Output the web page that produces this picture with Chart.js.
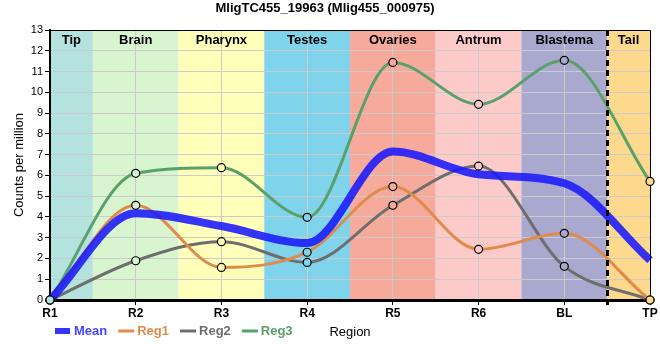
<!DOCTYPE html>
<html><head><meta charset="utf-8">
<script src="https://cdn.jsdelivr.net/npm/chart.js@4/dist/chart.umd.min.js"></script>
<style>html,body{margin:0;padding:0;background:#fff}#wrap{width:660px;height:360px;position:relative}</style>
</head><body><div id="wrap"><canvas id="c" width="660" height="360" style="width:660px;height:360px"></canvas></div>
<script>
const categories = ['R1','R2','R3','R4','R5','R6','BL','TP'];
const meanVals = [0, 4.18, 3.56, 2.74, 7.15, 6.05, 5.62, 1.92];
const reg1 = [0, 4.56, 1.57, 2.30, 5.46, 2.44, 3.21, 0];
const reg2 = [0, 1.89, 2.81, 1.81, 4.56, 6.45, 1.62, 0];
const reg3 = [0, 6.10, 6.37, 3.98, 11.44, 9.42, 11.54, 5.71];
const bandNames = ['Tip','Brain','Pharynx','Testes','Ovaries','Antrum','Blastema','Tail'];
const bandStart = [0, 0.5, 1.5, 2.5, 3.5, 4.5, 5.5, 6.5];
const bandEnd   = [0.5, 1.5, 2.5, 3.5, 4.5, 5.5, 6.5, 7];
const bandColors = ['#b4e2de','#d9f5d0','#ffffb9','#7fd4ec','#f5aa9c','#fdcaca','#a9a8ce','#fdd98e'];
const dashedAt = 6.5;

const FONT = "'Liberation Sans', Arial, sans-serif";

function bandColorAt(i){
  for (let k = 0; k < bandNames.length; k++) {
    if (i >= bandStart[k] && (i < bandEnd[k] || k === bandNames.length - 1)) return bandColors[k];
  }
  return '#fff';
}

const regionPlugin = {
  id: 'regions',
  beforeDraw(chart){
    const {ctx, chartArea: a, scales: {x}} = chart;
    ctx.save();
    for (let i = 0; i < bandNames.length; i++) {
      const x0 = x.getPixelForValue(bandStart[i]);
      const x1 = x.getPixelForValue(bandEnd[i]);
      ctx.fillStyle = bandColors[i];
      ctx.fillRect(x0, a.top, x1 - x0, a.bottom - a.top);
    }
    ctx.restore();
  },
  beforeDatasetsDraw(chart){
    const {ctx, chartArea: a, scales: {x}} = chart;
    ctx.save();
    ctx.font = 'bold 13px ' + FONT;
    ctx.fillStyle = '#000';
    ctx.textAlign = 'center';
    ctx.textBaseline = 'middle';
    for (let i = 0; i < bandNames.length; i++) {
      const x0 = x.getPixelForValue(bandStart[i]);
      const x1 = x.getPixelForValue(bandEnd[i]);
      ctx.fillText(bandNames[i], (x0 + x1) / 2, a.top + 10);
    }
    ctx.restore();
  },
  afterDatasetsDraw(chart){
    const {ctx, chartArea: a, scales: {x}} = chart;
    ctx.save();
    const xd = Math.round(x.getPixelForValue(dashedAt)) + 0.5;
    ctx.strokeStyle = '#000';
    ctx.lineWidth = 3;
    ctx.setLineDash([6, 4]);
    ctx.beginPath();
    ctx.moveTo(xd, a.top);
    ctx.lineTo(xd, a.bottom + 5);
    ctx.stroke();
    ctx.setLineDash([]);
    ctx.lineWidth = 1;
    ctx.beginPath();
    ctx.moveTo(a.left, a.top + 0.5);
    ctx.lineTo(a.right + 0.5, a.top + 0.5);
    ctx.lineTo(a.right + 0.5, a.bottom);
    ctx.stroke();
    chart.data.datasets.forEach((ds, di) => {
      if (!ds.showMarkers) return;
      const meta = chart.getDatasetMeta(di);
      meta.data.forEach((pt, j) => {
        ctx.beginPath();
        ctx.arc(pt.x, pt.y, 4, 0, Math.PI * 2);
        ctx.fillStyle = bandColorAt(j);
        ctx.fill();
        ctx.lineWidth = 1.2;
        ctx.strokeStyle = '#000';
        ctx.stroke();
      });
    });
    ctx.restore();
  },
  afterDraw(chart){
    const {ctx} = chart;
    ctx.save();
    ctx.font = 'bold 13px ' + FONT;
    ctx.textBaseline = 'middle';
    ctx.textAlign = 'left';
    let xx = 55;
    const yy = 331;
    chart.data.datasets.forEach((ds) => {
      if (ds.legendThick) {
        ctx.fillStyle = ds.borderColor;
        ctx.fillRect(xx, yy - 3, 15, 6);
        xx += 15 + 4;
      } else {
        ctx.strokeStyle = ds.borderColor;
        ctx.lineWidth = 3;
        ctx.beginPath();
        ctx.moveTo(xx, yy);
        ctx.lineTo(xx + 16, yy);
        ctx.stroke();
        xx += 16 + 3;
      }
      ctx.fillStyle = ds.legendText || ds.borderColor;
      ctx.fillText(ds.label, xx, yy);
      xx += ctx.measureText(ds.label).width + 11;
    });
    ctx.restore();
  }
};

const ctx = document.getElementById('c');
new Chart(ctx, {
  type: 'line',
  data: {
    labels: categories,
    datasets: [
      { label: 'Mean', data: meanVals, borderColor: 'rgba(25,25,250,0.88)', legendText: '#4545ff', legendThick: true,
        borderWidth: 8, pointRadius: 0, cubicInterpolationMode: 'monotone', borderCapStyle: 'butt', borderJoinStyle: 'round' },
      { label: 'Reg1', data: reg1, borderColor: '#e08b4c', borderWidth: 3, pointRadius: 0, showMarkers: true,
        cubicInterpolationMode: 'monotone' },
      { label: 'Reg2', data: reg2, borderColor: '#6e6e6e', borderWidth: 3, pointRadius: 0, showMarkers: true,
        cubicInterpolationMode: 'monotone' },
      { label: 'Reg3', data: reg3, borderColor: '#5aa06a', borderWidth: 3, pointRadius: 0, showMarkers: true,
        cubicInterpolationMode: 'monotone' }
    ]
  },
  options: {
    responsive: false,
    animation: false,
    devicePixelRatio: 1,
    layout: { padding: { left: 0, right: 10, top: 0, bottom: 20 } },
    plugins: {
      legend: { display: false },
      tooltip: { enabled: false },
      title: { display: true, text: 'MligTC455_19963 (Mlig455_000975)', color: '#000',
        font: { family: FONT, size: 13, weight: 'bold' }, padding: { top: 1, bottom: 13.4 } }
    },
    scales: {
      x: {
        type: 'category', offset: false,
        grid: { color: '#cbcbcb', lineWidth: 1, tickColor: '#000', tickLength: 5, drawTicks: true },
        border: { color: '#000', width: 3 },
        ticks: { color: '#000', font: { family: FONT, size: 12, weight: 'bold' }, padding: 1, maxRotation: 0, autoSkip: false },
        title: { display: true, text: 'Region', color: '#000', font: { family: FONT, size: 13 }, padding: { top: 0, bottom: 0 } },
        afterFit(s){ s.height = 40; }
      },
      y: {
        min: 0, max: 13,
        grid: { color: '#cbcbcb', lineWidth: 1, tickColor: '#000', tickLength: 5 },
        border: { color: '#000', width: 2 },
        ticks: { stepSize: 1, color: '#000', font: { family: FONT, size: 11 }, padding: 2 },
        title: { display: true, text: 'Counts per million', color: '#000', font: { family: FONT, size: 13 }, padding: { top: 12, bottom: 0 } },
        afterFit(s){ s.width = 50; }
      }
    }
  },
  plugins: [regionPlugin]
});
</script>
</body></html>
